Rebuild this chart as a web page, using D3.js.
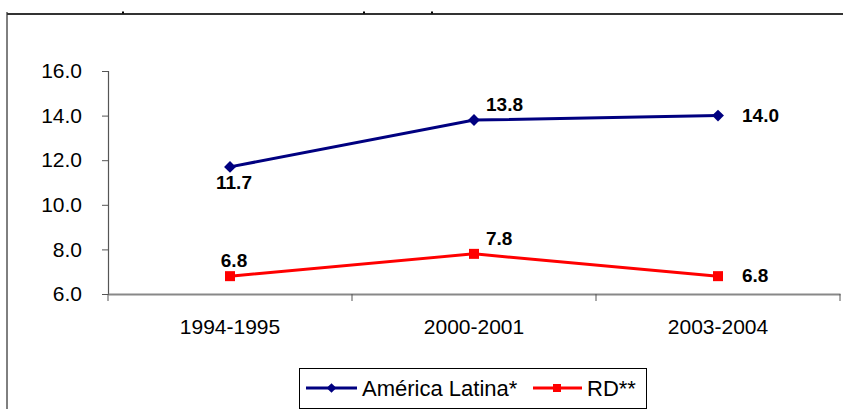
<!DOCTYPE html>
<html lang="es">
<head>
<meta charset="utf-8">
<title>América Latina vs RD</title>
<script src="https://d3js.org/d3.v7.min.js"></script>
<style>
  html, body { margin: 0; padding: 0; background: #fff; }
  svg text { font-family: "Liberation Sans", Arial, sans-serif; }
</style>
</head>
<body>
<div id="chart"></div>
<script>
// data
var periods = ["1994-1995", "2000-2001", "2003-2004"];
var latam = [11.7, 13.8, 14.0];
var rd = [6.8, 7.8, 6.8];
var yTicks = [6, 8, 10, 12, 14, 16];
var seriesNames = ["América Latina*", "RD**"];

// where each value label sits relative to its point
var latamLabelPos = ["below", "aboveRight", "right"];
var rdLabelPos = ["above", "aboveRight", "right"];

var w = 843, h = 409;

var svg = d3.select("#chart").append("svg")
  .attr("width", w)
  .attr("height", h);

// outer frame (top part of the original is cut off)
svg.append("line").attr("x1", 7).attr("x2", 7).attr("y1", 12).attr("y2", h)
  .attr("stroke", "#000").attr("stroke-width", 1);
svg.append("line").attr("x1", 7).attr("x2", w).attr("y1", 14).attr("y2", 14)
  .attr("stroke", "#333").attr("stroke-width", 2.2);
[123, 364, 432].forEach(function(x) {
  svg.append("rect").attr("x", x - 1).attr("y", 11.5).attr("width", 2).attr("height", 2).attr("fill", "#000");
});

var x = d3.scaleBand().domain(periods).range([108, 840]);
var y = d3.scaleLinear().domain([6, 16]).range([294, 71]);
function cx(p) { return x(p) + x.bandwidth() / 2; }

// y axis
var yAxis = svg.append("g")
  .attr("transform", "translate(108,0)")
  .call(d3.axisLeft(y).tickValues(yTicks).tickSize(6).tickPadding(20).tickFormat(d3.format(".1f")));
yAxis.select(".domain").attr("stroke", "#555").attr("stroke-width", 1.2);
yAxis.selectAll(".tick line").attr("stroke", "#555");
yAxis.selectAll(".tick text")
  .attr("font-family", "Liberation Sans, Arial, sans-serif")
  .attr("font-size", 21).attr("fill", "#000");

// x axis
var xAxis = svg.append("g")
  .attr("transform", "translate(0,294)")
  .call(d3.axisBottom(x).tickSize(0).tickPadding(25));
xAxis.select(".domain").attr("stroke", "#888").attr("stroke-width", 2);
xAxis.selectAll(".tick text")
  .attr("font-family", "Liberation Sans, Arial, sans-serif")
  .attr("font-size", 21).attr("fill", "#000");
// category boundary ticks
var bounds = periods.map(function(p) { return x(p); }).concat([x.range()[1]]);
svg.append("g").selectAll("line").data(bounds).enter().append("line")
  .attr("x1", function(d) { return d; }).attr("x2", function(d) { return d; })
  .attr("y1", 294).attr("y2", 301)
  .attr("stroke", "#555").attr("stroke-width", 1);

var line = d3.line()
  .x(function(d, i) { return cx(periods[i]); })
  .y(function(d) { return y(d); });

// América Latina
svg.append("path").datum(latam)
  .attr("d", line).attr("fill", "none")
  .attr("stroke", "#000080").attr("stroke-width", 3);
svg.append("g").selectAll("path").data(latam).enter().append("path")
  .attr("d", d3.symbol().type(d3.symbolDiamond2).size(90))
  .attr("transform", function(d, i) { return "translate(" + cx(periods[i]) + "," + y(d) + ")"; })
  .attr("fill", "#000080");

// RD
svg.append("path").datum(rd)
  .attr("d", line).attr("fill", "none")
  .attr("stroke", "#ff0000").attr("stroke-width", 3);
svg.append("g").selectAll("rect").data(rd).enter().append("rect")
  .attr("x", function(d, i) { return cx(periods[i]) - 5; })
  .attr("y", function(d) { return y(d) - 5; })
  .attr("width", 10).attr("height", 10)
  .attr("fill", "#ff0000");

// value labels
function labelAttrs(sel, pos) {
  sel.attr("x", function(d, i) {
      var p = pos[i], c = cx(periods[i]);
      if (p === "right") return c + 24;
      if (p === "aboveRight") return c + 12;
      return c + 4;
    })
    .attr("y", function(d, i) {
      var p = pos[i], v = y(d);
      if (p === "below") return v + 22;
      if (p === "right") return v + 6;
      return v - 9;
    })
    .attr("text-anchor", function(d, i) {
      var p = pos[i];
      return p === "right" || p === "aboveRight" ? "start" : "middle";
    })
    .attr("font-size", 19).attr("font-weight", "bold").attr("fill", "#000")
    .text(function(d) { return d3.format(".1f")(d); });
}
svg.append("g").selectAll("text").data(latam).enter().append("text").call(labelAttrs, latamLabelPos);
svg.append("g").selectAll("text").data(rd).enter().append("text").call(labelAttrs, rdLabelPos);

// legend
var lg = svg.append("g");
lg.append("rect").attr("x", 299.5).attr("y", 368.5).attr("width", 347).attr("height", 40)
  .attr("fill", "#fff").attr("stroke", "#000").attr("stroke-width", 1);
lg.append("line").attr("x1", 306).attr("x2", 357).attr("y1", 388).attr("y2", 388)
  .attr("stroke", "#000080").attr("stroke-width", 3);
lg.append("path").attr("d", d3.symbol().type(d3.symbolDiamond2).size(60))
  .attr("transform", "translate(331.5,388)").attr("fill", "#000080");
lg.append("text").attr("x", 362).attr("y", 395.5).attr("font-size", 22).text(seriesNames[0]);
lg.append("line").attr("x1", 533).attr("x2", 582).attr("y1", 388).attr("y2", 388)
  .attr("stroke", "#ff0000").attr("stroke-width", 3);
lg.append("rect").attr("x", 553).attr("y", 384).attr("width", 8).attr("height", 8).attr("fill", "#ff0000");
lg.append("text").attr("x", 587).attr("y", 395.5).attr("font-size", 22).text(seriesNames[1]);
</script>
</body>
</html>
